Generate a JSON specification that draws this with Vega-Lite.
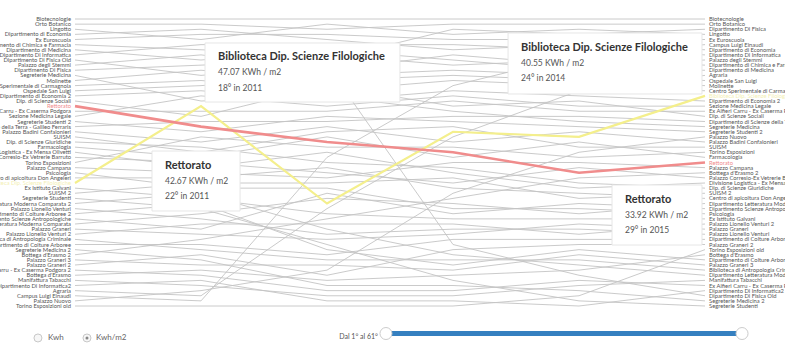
{
"$schema": "https://vega.github.io/schema/vega-lite/v6.json",
"width": 630, "height": 287,
"autosize": {"type": "none"},
"padding": {"left": 75, "top": 19, "right": 80, "bottom": 42},
"background": "white",
"config": {"view": {"stroke": null}, "font": "Lato", "text": {"font": "Lato"}},
"datasets": {"ranks": [
{"building":"Biotecnologie","year":2010,"rank":1},{"building":"Biotecnologie","year":2011,"rank":1},{"building":"Biotecnologie","year":2012,"rank":1},{"building":"Biotecnologie","year":2013,"rank":1},{"building":"Biotecnologie","year":2014,"rank":1},{"building":"Biotecnologie","year":2015,"rank":1},
{"building":"Orto Botanico","year":2010,"rank":2},{"building":"Orto Botanico","year":2011,"rank":2},{"building":"Orto Botanico","year":2012,"rank":3},{"building":"Orto Botanico","year":2013,"rank":2},{"building":"Orto Botanico","year":2014,"rank":2},{"building":"Orto Botanico","year":2015,"rank":2},
{"building":"Lingotto","year":2010,"rank":3},{"building":"Lingotto","year":2011,"rank":5},{"building":"Lingotto","year":2012,"rank":2},{"building":"Lingotto","year":2013,"rank":4},{"building":"Lingotto","year":2014,"rank":3},{"building":"Lingotto","year":2015,"rank":4},
{"building":"Dipartimento di Economia","year":2010,"rank":4},{"building":"Dipartimento di Economia","year":2011,"rank":3},{"building":"Dipartimento di Economia","year":2012,"rank":5},{"building":"Dipartimento di Economia","year":2013,"rank":7},{"building":"Dipartimento di Economia","year":2014,"rank":6},{"building":"Dipartimento di Economia","year":2015,"rank":7},
{"building":"Ex Euroscuola","year":2010,"rank":5},{"building":"Ex Euroscuola","year":2011,"rank":4},{"building":"Ex Euroscuola","year":2012,"rank":4},{"building":"Ex Euroscuola","year":2013,"rank":5},{"building":"Ex Euroscuola","year":2014,"rank":5},{"building":"Ex Euroscuola","year":2015,"rank":5},
{"building":"Dipartimento di Chimica e Farmacia","year":2010,"rank":6},{"building":"Dipartimento di Chimica e Farmacia","year":2011,"rank":7},{"building":"Dipartimento di Chimica e Farmacia","year":2012,"rank":8},{"building":"Dipartimento di Chimica e Farmacia","year":2013,"rank":10},{"building":"Dipartimento di Chimica e Farmacia","year":2014,"rank":9},{"building":"Dipartimento di Chimica e Farmacia","year":2015,"rank":10},
{"building":"Dipartimento di Medicina","year":2010,"rank":7},{"building":"Dipartimento di Medicina","year":2011,"rank":9},{"building":"Dipartimento di Medicina","year":2012,"rank":7},{"building":"Dipartimento di Medicina","year":2013,"rank":9},{"building":"Dipartimento di Medicina","year":2014,"rank":11},{"building":"Dipartimento di Medicina","year":2015,"rank":11},
{"building":"Dipartimento Di Informatica","year":2010,"rank":8},{"building":"Dipartimento Di Informatica","year":2011,"rank":6},{"building":"Dipartimento Di Informatica","year":2012,"rank":6},{"building":"Dipartimento Di Informatica","year":2013,"rank":6},{"building":"Dipartimento Di Informatica","year":2014,"rank":7},{"building":"Dipartimento Di Informatica","year":2015,"rank":8},
{"building":"Dipartimento Di Fisica Old","year":2010,"rank":9},{"building":"Dipartimento Di Fisica Old","year":2011,"rank":12},{"building":"Dipartimento Di Fisica Old","year":2012,"rank":10},{"building":"Dipartimento Di Fisica Old","year":2013,"rank":45},{"building":"Dipartimento Di Fisica Old","year":2014,"rank":51},{"building":"Dipartimento Di Fisica Old","year":2015,"rank":55},
{"building":"Palazzo degli Stemmi","year":2010,"rank":10},{"building":"Palazzo degli Stemmi","year":2011,"rank":8},{"building":"Palazzo degli Stemmi","year":2012,"rank":11},{"building":"Palazzo degli Stemmi","year":2013,"rank":8},{"building":"Palazzo degli Stemmi","year":2014,"rank":10},{"building":"Palazzo degli Stemmi","year":2015,"rank":9},
{"building":"Dipartimento Di Fisica","year":2010,"rank":11},{"building":"Dipartimento Di Fisica","year":2011,"rank":10},{"building":"Dipartimento Di Fisica","year":2012,"rank":9},{"building":"Dipartimento Di Fisica","year":2013,"rank":3},{"building":"Dipartimento Di Fisica","year":2014,"rank":4},{"building":"Dipartimento Di Fisica","year":2015,"rank":3},
{"building":"Segreterie Medicina","year":2010,"rank":12},{"building":"Segreterie Medicina","year":2011,"rank":17},{"building":"Segreterie Medicina","year":2012,"rank":16},{"building":"Segreterie Medicina","year":2013,"rank":19},{"building":"Segreterie Medicina","year":2014,"rank":21},{"building":"Segreterie Medicina","year":2015,"rank":22},
{"building":"Molinette","year":2010,"rank":13},{"building":"Molinette","year":2011,"rank":11},{"building":"Molinette","year":2012,"rank":13},{"building":"Molinette","year":2013,"rank":12},{"building":"Molinette","year":2014,"rank":13},{"building":"Molinette","year":2015,"rank":14},
{"building":"Centro Sperimentale di Carmagnola","year":2010,"rank":14},{"building":"Centro Sperimentale di Carmagnola","year":2011,"rank":13},{"building":"Centro Sperimentale di Carmagnola","year":2012,"rank":15},{"building":"Centro Sperimentale di Carmagnola","year":2013,"rank":13},{"building":"Centro Sperimentale di Carmagnola","year":2014,"rank":14},{"building":"Centro Sperimentale di Carmagnola","year":2015,"rank":15},
{"building":"Ospedale San Luigi","year":2010,"rank":15},{"building":"Ospedale San Luigi","year":2011,"rank":14},{"building":"Ospedale San Luigi","year":2012,"rank":12},{"building":"Ospedale San Luigi","year":2013,"rank":11},{"building":"Ospedale San Luigi","year":2014,"rank":12},{"building":"Ospedale San Luigi","year":2015,"rank":13},
{"building":"Dipartimento di Economia 2","year":2010,"rank":16},{"building":"Dipartimento di Economia 2","year":2011,"rank":15},{"building":"Dipartimento di Economia 2","year":2012,"rank":17},{"building":"Dipartimento di Economia 2","year":2013,"rank":15},{"building":"Dipartimento di Economia 2","year":2014,"rank":16},{"building":"Dipartimento di Economia 2","year":2015,"rank":17},
{"building":"Dip. di Scienze Sociali","year":2010,"rank":17},{"building":"Dip. di Scienze Sociali","year":2011,"rank":20},{"building":"Dip. di Scienze Sociali","year":2012,"rank":14},{"building":"Dip. di Scienze Sociali","year":2013,"rank":18},{"building":"Dip. di Scienze Sociali","year":2014,"rank":17},{"building":"Dip. di Scienze Sociali","year":2015,"rank":20},
{"building":"Rettorato","year":2010,"rank":18},{"building":"Rettorato","year":2011,"rank":22},{"building":"Rettorato","year":2012,"rank":25},{"building":"Rettorato","year":2013,"rank":27},{"building":"Rettorato","year":2014,"rank":31},{"building":"Rettorato","year":2015,"rank":29},
{"building":"Ex Alfieri Carru - Ex Caserma Podgora","year":2010,"rank":19},{"building":"Ex Alfieri Carru - Ex Caserma Podgora","year":2011,"rank":19},{"building":"Ex Alfieri Carru - Ex Caserma Podgora","year":2012,"rank":19},{"building":"Ex Alfieri Carru - Ex Caserma Podgora","year":2013,"rank":17},{"building":"Ex Alfieri Carru - Ex Caserma Podgora","year":2014,"rank":19},{"building":"Ex Alfieri Carru - Ex Caserma Podgora","year":2015,"rank":19},
{"building":"Sezione Medicina Legale","year":2010,"rank":20},{"building":"Sezione Medicina Legale","year":2011,"rank":16},{"building":"Sezione Medicina Legale","year":2012,"rank":18},{"building":"Sezione Medicina Legale","year":2013,"rank":16},{"building":"Sezione Medicina Legale","year":2014,"rank":18},{"building":"Sezione Medicina Legale","year":2015,"rank":18},
{"building":"Segreterie Studenti 2","year":2010,"rank":21},{"building":"Segreterie Studenti 2","year":2011,"rank":23},{"building":"Segreterie Studenti 2","year":2012,"rank":20},{"building":"Segreterie Studenti 2","year":2013,"rank":21},{"building":"Segreterie Studenti 2","year":2014,"rank":22},{"building":"Segreterie Studenti 2","year":2015,"rank":23},
{"building":"Dipartimento di Scienze della Terra - Galileo Ferraris","year":2010,"rank":22},{"building":"Dipartimento di Scienze della Terra - Galileo Ferraris","year":2011,"rank":21},{"building":"Dipartimento di Scienze della Terra - Galileo Ferraris","year":2012,"rank":21},{"building":"Dipartimento di Scienze della Terra - Galileo Ferraris","year":2013,"rank":20},{"building":"Dipartimento di Scienze della Terra - Galileo Ferraris","year":2014,"rank":20},{"building":"Dipartimento di Scienze della Terra - Galileo Ferraris","year":2015,"rank":21},
{"building":"Palazzo Badini Confalonieri","year":2010,"rank":23},{"building":"Palazzo Badini Confalonieri","year":2011,"rank":25},{"building":"Palazzo Badini Confalonieri","year":2012,"rank":22},{"building":"Palazzo Badini Confalonieri","year":2013,"rank":25},{"building":"Palazzo Badini Confalonieri","year":2014,"rank":23},{"building":"Palazzo Badini Confalonieri","year":2015,"rank":25},
{"building":"SUISM","year":2010,"rank":24},{"building":"SUISM","year":2011,"rank":27},{"building":"SUISM","year":2012,"rank":23},{"building":"SUISM","year":2013,"rank":22},{"building":"SUISM","year":2014,"rank":26},{"building":"SUISM","year":2015,"rank":26},
{"building":"Dip. di Scienze Giuridiche","year":2010,"rank":25},{"building":"Dip. di Scienze Giuridiche","year":2011,"rank":26},{"building":"Dip. di Scienze Giuridiche","year":2012,"rank":29},{"building":"Dip. di Scienze Giuridiche","year":2013,"rank":30},{"building":"Dip. di Scienze Giuridiche","year":2014,"rank":33},{"building":"Dip. di Scienze Giuridiche","year":2015,"rank":34},
{"building":"Farmacologia","year":2010,"rank":26},{"building":"Farmacologia","year":2011,"rank":28},{"building":"Farmacologia","year":2012,"rank":24},{"building":"Farmacologia","year":2013,"rank":28},{"building":"Farmacologia","year":2014,"rank":25},{"building":"Farmacologia","year":2015,"rank":28},
{"building":"Divisione Logistica - Ex Mensa Olivetti","year":2010,"rank":27},{"building":"Divisione Logistica - Ex Mensa Olivetti","year":2011,"rank":30},{"building":"Divisione Logistica - Ex Mensa Olivetti","year":2012,"rank":27},{"building":"Divisione Logistica - Ex Mensa Olivetti","year":2013,"rank":31},{"building":"Divisione Logistica - Ex Mensa Olivetti","year":2014,"rank":34},{"building":"Divisione Logistica - Ex Mensa Olivetti","year":2015,"rank":33},
{"building":"Palazzo Corresio-Ex Vetrerie Barruto","year":2010,"rank":28},{"building":"Palazzo Corresio-Ex Vetrerie Barruto","year":2011,"rank":29},{"building":"Palazzo Corresio-Ex Vetrerie Barruto","year":2012,"rank":31},{"building":"Palazzo Corresio-Ex Vetrerie Barruto","year":2013,"rank":33},{"building":"Palazzo Corresio-Ex Vetrerie Barruto","year":2014,"rank":30},{"building":"Palazzo Corresio-Ex Vetrerie Barruto","year":2015,"rank":32},
{"building":"Torino Esposizioni","year":2010,"rank":29},{"building":"Torino Esposizioni","year":2011,"rank":24},{"building":"Torino Esposizioni","year":2012,"rank":26},{"building":"Torino Esposizioni","year":2013,"rank":26},{"building":"Torino Esposizioni","year":2014,"rank":28},{"building":"Torino Esposizioni","year":2015,"rank":27},
{"building":"Palazzo Campana","year":2010,"rank":30},{"building":"Palazzo Campana","year":2011,"rank":31},{"building":"Palazzo Campana","year":2012,"rank":32},{"building":"Palazzo Campana","year":2013,"rank":29},{"building":"Palazzo Campana","year":2014,"rank":29},{"building":"Palazzo Campana","year":2015,"rank":30},
{"building":"Psicologia","year":2010,"rank":31},{"building":"Psicologia","year":2011,"rank":34},{"building":"Psicologia","year":2012,"rank":34},{"building":"Psicologia","year":2013,"rank":38},{"building":"Psicologia","year":2014,"rank":38},{"building":"Psicologia","year":2015,"rank":39},
{"building":"Centro di apicoltura Don Angeleri","year":2010,"rank":32},{"building":"Centro di apicoltura Don Angeleri","year":2011,"rank":32},{"building":"Centro di apicoltura Don Angeleri","year":2012,"rank":30},{"building":"Centro di apicoltura Don Angeleri","year":2013,"rank":34},{"building":"Centro di apicoltura Don Angeleri","year":2014,"rank":35},{"building":"Centro di apicoltura Don Angeleri","year":2015,"rank":36},
{"building":"Biblioteca Dip. Scienze Filologiche","year":2010,"rank":33},{"building":"Biblioteca Dip. Scienze Filologiche","year":2011,"rank":18},{"building":"Biblioteca Dip. Scienze Filologiche","year":2012,"rank":37},{"building":"Biblioteca Dip. Scienze Filologiche","year":2013,"rank":23},{"building":"Biblioteca Dip. Scienze Filologiche","year":2014,"rank":24},{"building":"Biblioteca Dip. Scienze Filologiche","year":2015,"rank":16},
{"building":"Ex Istituto Galvani","year":2010,"rank":34},{"building":"Ex Istituto Galvani","year":2011,"rank":36},{"building":"Ex Istituto Galvani","year":2012,"rank":39},{"building":"Ex Istituto Galvani","year":2013,"rank":40},{"building":"Ex Istituto Galvani","year":2014,"rank":40},{"building":"Ex Istituto Galvani","year":2015,"rank":40},
{"building":"SUISM 2","year":2010,"rank":35},{"building":"SUISM 2","year":2011,"rank":33},{"building":"SUISM 2","year":2012,"rank":33},{"building":"SUISM 2","year":2013,"rank":32},{"building":"SUISM 2","year":2014,"rank":36},{"building":"SUISM 2","year":2015,"rank":35},
{"building":"Segreterie Studenti","year":2010,"rank":36},{"building":"Segreterie Studenti","year":2011,"rank":38},{"building":"Segreterie Studenti","year":2012,"rank":45},{"building":"Segreterie Studenti","year":2013,"rank":52},{"building":"Segreterie Studenti","year":2014,"rank":56},{"building":"Segreterie Studenti","year":2015,"rank":57},
{"building":"Dipartimento Letteratura Moderna Comparata 2","year":2010,"rank":37},{"building":"Dipartimento Letteratura Moderna Comparata 2","year":2011,"rank":35},{"building":"Dipartimento Letteratura Moderna Comparata 2","year":2012,"rank":42},{"building":"Dipartimento Letteratura Moderna Comparata 2","year":2013,"rank":47},{"building":"Dipartimento Letteratura Moderna Comparata 2","year":2014,"rank":49},{"building":"Dipartimento Letteratura Moderna Comparata 2","year":2015,"rank":51},
{"building":"Palazzo Lionello Venturi","year":2010,"rank":38},{"building":"Palazzo Lionello Venturi","year":2011,"rank":40},{"building":"Palazzo Lionello Venturi","year":2012,"rank":43},{"building":"Palazzo Lionello Venturi","year":2013,"rank":42},{"building":"Palazzo Lionello Venturi","year":2014,"rank":42},{"building":"Palazzo Lionello Venturi","year":2015,"rank":43},
{"building":"Dipartimento di Colture Arboree 2","year":2010,"rank":39},{"building":"Dipartimento di Colture Arboree 2","year":2011,"rank":37},{"building":"Dipartimento di Colture Arboree 2","year":2012,"rank":46},{"building":"Dipartimento di Colture Arboree 2","year":2013,"rank":49},{"building":"Dipartimento di Colture Arboree 2","year":2014,"rank":46},{"building":"Dipartimento di Colture Arboree 2","year":2015,"rank":48},
{"building":"Dipartimento Scienze Antropologiche","year":2010,"rank":40},{"building":"Dipartimento Scienze Antropologiche","year":2011,"rank":42},{"building":"Dipartimento Scienze Antropologiche","year":2012,"rank":35},{"building":"Dipartimento Scienze Antropologiche","year":2013,"rank":39},{"building":"Dipartimento Scienze Antropologiche","year":2014,"rank":37},{"building":"Dipartimento Scienze Antropologiche","year":2015,"rank":38},
{"building":"Dipartimento Letteratura Moderna Comparata","year":2010,"rank":41},{"building":"Dipartimento Letteratura Moderna Comparata","year":2011,"rank":39},{"building":"Dipartimento Letteratura Moderna Comparata","year":2012,"rank":36},{"building":"Dipartimento Letteratura Moderna Comparata","year":2013,"rank":37},{"building":"Dipartimento Letteratura Moderna Comparata","year":2014,"rank":39},{"building":"Dipartimento Letteratura Moderna Comparata","year":2015,"rank":37},
{"building":"Palazzo Graneri","year":2010,"rank":42},{"building":"Palazzo Graneri","year":2011,"rank":43},{"building":"Palazzo Graneri","year":2012,"rank":44},{"building":"Palazzo Graneri","year":2013,"rank":43},{"building":"Palazzo Graneri","year":2014,"rank":41},{"building":"Palazzo Graneri","year":2015,"rank":42},
{"building":"Palazzo Lionello Venturi 2","year":2010,"rank":43},{"building":"Palazzo Lionello Venturi 2","year":2011,"rank":41},{"building":"Palazzo Lionello Venturi 2","year":2012,"rank":41},{"building":"Palazzo Lionello Venturi 2","year":2013,"rank":41},{"building":"Palazzo Lionello Venturi 2","year":2014,"rank":43},{"building":"Palazzo Lionello Venturi 2","year":2015,"rank":41},
{"building":"Biblioteca di Antropologia Criminale","year":2010,"rank":44},{"building":"Biblioteca di Antropologia Criminale","year":2011,"rank":46},{"building":"Biblioteca di Antropologia Criminale","year":2012,"rank":48},{"building":"Biblioteca di Antropologia Criminale","year":2013,"rank":48},{"building":"Biblioteca di Antropologia Criminale","year":2014,"rank":48},{"building":"Biblioteca di Antropologia Criminale","year":2015,"rank":50},
{"building":"Dipartimento di Colture Arboree","year":2010,"rank":45},{"building":"Dipartimento di Colture Arboree","year":2011,"rank":45},{"building":"Dipartimento di Colture Arboree","year":2012,"rank":47},{"building":"Dipartimento di Colture Arboree","year":2013,"rank":44},{"building":"Dipartimento di Colture Arboree","year":2014,"rank":44},{"building":"Dipartimento di Colture Arboree","year":2015,"rank":44},
{"building":"Segreterie Medicina 2","year":2010,"rank":46},{"building":"Segreterie Medicina 2","year":2011,"rank":48},{"building":"Segreterie Medicina 2","year":2012,"rank":53},{"building":"Segreterie Medicina 2","year":2013,"rank":53},{"building":"Segreterie Medicina 2","year":2014,"rank":54},{"building":"Segreterie Medicina 2","year":2015,"rank":56},
{"building":"Bottega d'Erasmo 2","year":2010,"rank":47},{"building":"Bottega d'Erasmo 2","year":2011,"rank":44},{"building":"Bottega d'Erasmo 2","year":2012,"rank":40},{"building":"Bottega d'Erasmo 2","year":2013,"rank":36},{"building":"Bottega d'Erasmo 2","year":2014,"rank":32},{"building":"Bottega d'Erasmo 2","year":2015,"rank":31},
{"building":"Palazzo Graneri 3","year":2010,"rank":48},{"building":"Palazzo Graneri 3","year":2011,"rank":49},{"building":"Palazzo Graneri 3","year":2012,"rank":49},{"building":"Palazzo Graneri 3","year":2013,"rank":50},{"building":"Palazzo Graneri 3","year":2014,"rank":47},{"building":"Palazzo Graneri 3","year":2015,"rank":49},
{"building":"Palazzo Graneri 2","year":2010,"rank":49},{"building":"Palazzo Graneri 2","year":2011,"rank":47},{"building":"Palazzo Graneri 2","year":2012,"rank":51},{"building":"Palazzo Graneri 2","year":2013,"rank":46},{"building":"Palazzo Graneri 2","year":2014,"rank":45},{"building":"Palazzo Graneri 2","year":2015,"rank":45},
{"building":"Ex Alfieri Carru - Ex Caserma Podgora 2","year":2010,"rank":50},{"building":"Ex Alfieri Carru - Ex Caserma Podgora 2","year":2011,"rank":51},{"building":"Ex Alfieri Carru - Ex Caserma Podgora 2","year":2012,"rank":54},{"building":"Ex Alfieri Carru - Ex Caserma Podgora 2","year":2013,"rank":54},{"building":"Ex Alfieri Carru - Ex Caserma Podgora 2","year":2014,"rank":52},{"building":"Ex Alfieri Carru - Ex Caserma Podgora 2","year":2015,"rank":53},
{"building":"Bottega d'Erasmo","year":2010,"rank":51},{"building":"Bottega d'Erasmo","year":2011,"rank":50},{"building":"Bottega d'Erasmo","year":2012,"rank":52},{"building":"Bottega d'Erasmo","year":2013,"rank":51},{"building":"Bottega d'Erasmo","year":2014,"rank":50},{"building":"Bottega d'Erasmo","year":2015,"rank":47},
{"building":"Manifattura Tabacchi","year":2010,"rank":52},{"building":"Manifattura Tabacchi","year":2011,"rank":53},{"building":"Manifattura Tabacchi","year":2012,"rank":55},{"building":"Manifattura Tabacchi","year":2013,"rank":55},{"building":"Manifattura Tabacchi","year":2014,"rank":53},{"building":"Manifattura Tabacchi","year":2015,"rank":52},
{"building":"Dipartimento Di Informatica2","year":2010,"rank":53},{"building":"Dipartimento Di Informatica2","year":2011,"rank":52},{"building":"Dipartimento Di Informatica2","year":2012,"rank":56},{"building":"Dipartimento Di Informatica2","year":2013,"rank":56},{"building":"Dipartimento Di Informatica2","year":2014,"rank":57},{"building":"Dipartimento Di Informatica2","year":2015,"rank":54},
{"building":"Agraria","year":2010,"rank":54},{"building":"Agraria","year":2011,"rank":55},{"building":"Agraria","year":2012,"rank":38},{"building":"Agraria","year":2013,"rank":24},{"building":"Agraria","year":2014,"rank":15},{"building":"Agraria","year":2015,"rank":12},
{"building":"Campus Luigi Einaudi","year":2010,"rank":55},{"building":"Campus Luigi Einaudi","year":2011,"rank":56},{"building":"Campus Luigi Einaudi","year":2012,"rank":28},{"building":"Campus Luigi Einaudi","year":2013,"rank":14},{"building":"Campus Luigi Einaudi","year":2014,"rank":8},{"building":"Campus Luigi Einaudi","year":2015,"rank":6},
{"building":"Palazzo Nuovo","year":2010,"rank":56},{"building":"Palazzo Nuovo","year":2011,"rank":54},{"building":"Palazzo Nuovo","year":2012,"rank":50},{"building":"Palazzo Nuovo","year":2013,"rank":35},{"building":"Palazzo Nuovo","year":2014,"rank":27},{"building":"Palazzo Nuovo","year":2015,"rank":24},
{"building":"Torino Esposizioni old","year":2010,"rank":57},{"building":"Torino Esposizioni old","year":2011,"rank":57},{"building":"Torino Esposizioni old","year":2012,"rank":57},{"building":"Torino Esposizioni old","year":2013,"rank":57},{"building":"Torino Esposizioni old","year":2014,"rank":55},{"building":"Torino Esposizioni old","year":2015,"rank":46}
]},
"layer": [
{"data": {"name": "ranks"},
 "mark": {"type": "line", "color": "#c4c4c4", "strokeWidth": 0.9},
 "encoding": {
  "x": {"field": "year", "type": "quantitative", "scale": {"domain": [2010, 2015], "nice": false, "zero": false},
        "axis": {"orient": "top", "values": [2010, 2011, 2012, 2013, 2014, 2015], "format": "d", "domain": false, "ticks": false, "grid": false, "labelFont": "Lato", "labelFontSize": 6.5, "labelColor": "#777777", "labelPadding": 9, "title": null}},
  "y": {"field": "rank", "type": "quantitative", "scale": {"domain": [1, 57], "reverse": true, "nice": false, "zero": false}, "axis": null},
  "detail": {"field": "building"}}},
{"data": {"name": "ranks"},
 "transform": [{"filter": "datum.building === 'Biblioteca Dip. Scienze Filologiche'"}],
 "mark": {"type": "line", "color": "#f4ef8c", "strokeWidth": 2.2},
 "encoding": {"x": {"field": "year", "type": "quantitative", "axis": null}, "y": {"field": "rank", "type": "quantitative", "axis": null}}},
{"data": {"name": "ranks"},
 "transform": [{"filter": "datum.building === 'Rettorato'"}],
 "mark": {"type": "line", "color": "#f08c8c", "strokeWidth": 2.6},
 "encoding": {"x": {"field": "year", "type": "quantitative", "axis": null}, "y": {"field": "rank", "type": "quantitative", "axis": null}}},
{"data": {"name": "ranks"},
 "transform": [{"filter": "datum.year === 2010"}],
 "mark": {"type": "text", "align": "right", "baseline": "middle", "dx": -4, "fontSize": 5.8, "font": "Lato"},
 "encoding": {"x": {"field": "year", "type": "quantitative", "axis": null}, "y": {"field": "rank", "type": "quantitative", "axis": null},
  "text": {"field": "building"},
  "color": {"condition": [{"test": "datum.building === 'Rettorato'", "value": "#f08c8c"}, {"test": "datum.building === 'Biblioteca Dip. Scienze Filologiche'", "value": "#f3efb4"}], "value": "#555555"}}},
{"data": {"name": "ranks"},
 "transform": [{"filter": "datum.year === 2015"}],
 "mark": {"type": "text", "align": "left", "baseline": "middle", "dx": 4, "fontSize": 5.8, "font": "Lato"},
 "encoding": {"x": {"field": "year", "type": "quantitative", "axis": null}, "y": {"field": "rank", "type": "quantitative", "axis": null},
  "text": {"field": "building"},
  "color": {"condition": [{"test": "datum.building === 'Rettorato'", "value": "#f08c8c"}, {"test": "datum.building === 'Biblioteca Dip. Scienze Filologiche'", "value": "#f3efb4"}], "value": "#555555"}}},
{"data": {"values": [{"building": "Biblioteca Dip. Scienze Filologiche", "kwh": "47.07 KWh / m2", "pos": "18° in 2011"}]},
 "layer": [
  {"mark": {"type": "rect", "fill": "white", "stroke": "#e6e6e6", "strokeWidth": 1},
   "encoding": {"x": {"datum": 2011.032, "type": "quantitative", "axis": null}, "x2": {"datum": 2012.579}, "y": {"datum": 5.68, "type": "quantitative", "axis": null}, "y2": {"datum": 17.2}}},
  {"mark": {"type": "text", "align": "left", "baseline": "middle", "fontSize": 11, "fontWeight": "bold", "color": "#333333", "font": "Lato"},
   "encoding": {"x": {"datum": 2011.135, "type": "quantitative", "axis": null}, "y": {"datum": 8.41, "type": "quantitative", "axis": null}, "text": {"field": "building"}}},
  {"mark": {"type": "text", "align": "left", "baseline": "middle", "fontSize": 8.5, "color": "#555555", "font": "Lato"},
   "encoding": {"x": {"datum": 2011.135, "type": "quantitative", "axis": null}, "y": {"datum": 11.34, "type": "quantitative", "axis": null}, "text": {"field": "kwh"}}},
  {"mark": {"type": "text", "align": "left", "baseline": "middle", "fontSize": 8.5, "color": "#555555", "font": "Lato"},
   "encoding": {"x": {"datum": 2011.135, "type": "quantitative", "axis": null}, "y": {"datum": 14.46, "type": "quantitative", "axis": null}, "text": {"field": "pos"}}}
 ]},
{"data": {"values": [{"building": "Rettorato", "kwh": "42.67 KWh / m2", "pos": "22° in 2011"}]},
 "layer": [
  {"mark": {"type": "rect", "fill": "white", "stroke": "#e6e6e6", "strokeWidth": 1},
   "encoding": {"x": {"datum": 2010.611, "type": "quantitative", "axis": null}, "x2": {"datum": 2011.31}, "y": {"datum": 26.76, "type": "quantitative", "axis": null}, "y2": {"datum": 38.46}}},
  {"mark": {"type": "text", "align": "left", "baseline": "middle", "fontSize": 11, "fontWeight": "bold", "color": "#333333", "font": "Lato"},
   "encoding": {"x": {"datum": 2010.714, "type": "quantitative", "axis": null}, "y": {"datum": 29.68, "type": "quantitative", "axis": null}, "text": {"field": "building"}}},
  {"mark": {"type": "text", "align": "left", "baseline": "middle", "fontSize": 8.5, "color": "#555555", "font": "Lato"},
   "encoding": {"x": {"datum": 2010.714, "type": "quantitative", "axis": null}, "y": {"datum": 32.61, "type": "quantitative", "axis": null}, "text": {"field": "kwh"}}},
  {"mark": {"type": "text", "align": "left", "baseline": "middle", "fontSize": 8.5, "color": "#555555", "font": "Lato"},
   "encoding": {"x": {"datum": 2010.714, "type": "quantitative", "axis": null}, "y": {"datum": 35.54, "type": "quantitative", "axis": null}, "text": {"field": "pos"}}}
 ]},
{"data": {"values": [{"building": "Biblioteca Dip. Scienze Filologiche", "kwh": "40.55 KWh / m2", "pos": "24° in 2014"}]},
 "layer": [
  {"mark": {"type": "rect", "fill": "white", "stroke": "#e6e6e6", "strokeWidth": 1},
   "encoding": {"x": {"datum": 2013.437, "type": "quantitative", "axis": null}, "x2": {"datum": 2014.976}, "y": {"datum": 3.73, "type": "quantitative", "axis": null}, "y2": {"datum": 15.63}}},
  {"mark": {"type": "text", "align": "left", "baseline": "middle", "fontSize": 11, "fontWeight": "bold", "color": "#333333", "font": "Lato"},
   "encoding": {"x": {"datum": 2013.54, "type": "quantitative", "axis": null}, "y": {"datum": 6.66, "type": "quantitative", "axis": null}, "text": {"field": "building"}}},
  {"mark": {"type": "text", "align": "left", "baseline": "middle", "fontSize": 8.5, "color": "#555555", "font": "Lato"},
   "encoding": {"x": {"datum": 2013.54, "type": "quantitative", "axis": null}, "y": {"datum": 9.59, "type": "quantitative", "axis": null}, "text": {"field": "kwh"}}},
  {"mark": {"type": "text", "align": "left", "baseline": "middle", "fontSize": 8.5, "color": "#555555", "font": "Lato"},
   "encoding": {"x": {"datum": 2013.54, "type": "quantitative", "axis": null}, "y": {"datum": 12.51, "type": "quantitative", "axis": null}, "text": {"field": "pos"}}}
 ]},
{"data": {"values": [{"building": "Rettorato", "kwh": "33.92 KWh / m2", "pos": "29° in 2015"}]},
 "layer": [
  {"mark": {"type": "rect", "fill": "white", "stroke": "#e6e6e6", "strokeWidth": 1},
   "encoding": {"x": {"datum": 2014.262, "type": "quantitative", "axis": null}, "x2": {"datum": 2014.976}, "y": {"datum": 33.39, "type": "quantitative", "axis": null}, "y2": {"datum": 45.1}}},
  {"mark": {"type": "text", "align": "left", "baseline": "middle", "fontSize": 11, "fontWeight": "bold", "color": "#333333", "font": "Lato"},
   "encoding": {"x": {"datum": 2014.365, "type": "quantitative", "axis": null}, "y": {"datum": 36.32, "type": "quantitative", "axis": null}, "text": {"field": "building"}}},
  {"mark": {"type": "text", "align": "left", "baseline": "middle", "fontSize": 8.5, "color": "#555555", "font": "Lato"},
   "encoding": {"x": {"datum": 2014.365, "type": "quantitative", "axis": null}, "y": {"datum": 39.24, "type": "quantitative", "axis": null}, "text": {"field": "kwh"}}},
  {"mark": {"type": "text", "align": "left", "baseline": "middle", "fontSize": 8.5, "color": "#555555", "font": "Lato"},
   "encoding": {"x": {"datum": 2014.365, "type": "quantitative", "axis": null}, "y": {"datum": 42.17, "type": "quantitative", "axis": null}, "text": {"field": "pos"}}}
 ]},
{"data": {"values": [{"a": "Kwh", "b": "Kwh/m2", "c": "Dal 1° al 61°"}]},
 "layer": [
  {"mark": {"type": "circle", "size": 64, "fill": "#f7f7f7", "stroke": "#c8c8c8", "strokeWidth": 1, "opacity": 1},
   "encoding": {"x": {"datum": 2009.706, "type": "quantitative", "axis": null}, "y": {"datum": 63.24, "type": "quantitative", "axis": null}}},
  {"mark": {"type": "circle", "size": 64, "fill": "#f7f7f7", "stroke": "#c8c8c8", "strokeWidth": 1, "opacity": 1},
   "encoding": {"x": {"datum": 2010.095, "type": "quantitative", "axis": null}, "y": {"datum": 63.24, "type": "quantitative", "axis": null}}},
  {"mark": {"type": "circle", "size": 9, "fill": "#888888", "opacity": 1},
   "encoding": {"x": {"datum": 2010.095, "type": "quantitative", "axis": null}, "y": {"datum": 63.24, "type": "quantitative", "axis": null}}},
  {"mark": {"type": "text", "align": "left", "baseline": "middle", "fontSize": 8, "color": "#666666", "font": "Lato"},
   "encoding": {"x": {"datum": 2009.786, "type": "quantitative", "axis": null}, "y": {"datum": 63.24, "type": "quantitative", "axis": null}, "text": {"field": "a"}}},
  {"mark": {"type": "text", "align": "left", "baseline": "middle", "fontSize": 8, "color": "#666666", "font": "Lato"},
   "encoding": {"x": {"datum": 2010.167, "type": "quantitative", "axis": null}, "y": {"datum": 63.24, "type": "quantitative", "axis": null}, "text": {"field": "b"}}},
  {"mark": {"type": "text", "align": "right", "baseline": "middle", "fontSize": 7, "color": "#555555", "font": "Lato"},
   "encoding": {"x": {"datum": 2012.405, "type": "quantitative", "axis": null}, "y": {"datum": 63.05, "type": "quantitative", "axis": null}, "text": {"field": "c"}}},
  {"mark": {"type": "rule", "color": "#3580c0", "strokeWidth": 5},
   "encoding": {"x": {"datum": 2012.468, "type": "quantitative", "axis": null}, "x2": {"datum": 2015.294}, "y": {"datum": 62.37, "type": "quantitative", "axis": null}}},
  {"mark": {"type": "circle", "size": 144, "fill": "white", "stroke": "#cccccc", "strokeWidth": 1, "opacity": 1},
   "encoding": {"x": {"datum": 2012.468, "type": "quantitative", "axis": null}, "y": {"datum": 62.37, "type": "quantitative", "axis": null}}},
  {"mark": {"type": "circle", "size": 144, "fill": "white", "stroke": "#cccccc", "strokeWidth": 1, "opacity": 1},
   "encoding": {"x": {"datum": 2015.294, "type": "quantitative", "axis": null}, "y": {"datum": 62.37, "type": "quantitative", "axis": null}}}
 ]}
]
}
